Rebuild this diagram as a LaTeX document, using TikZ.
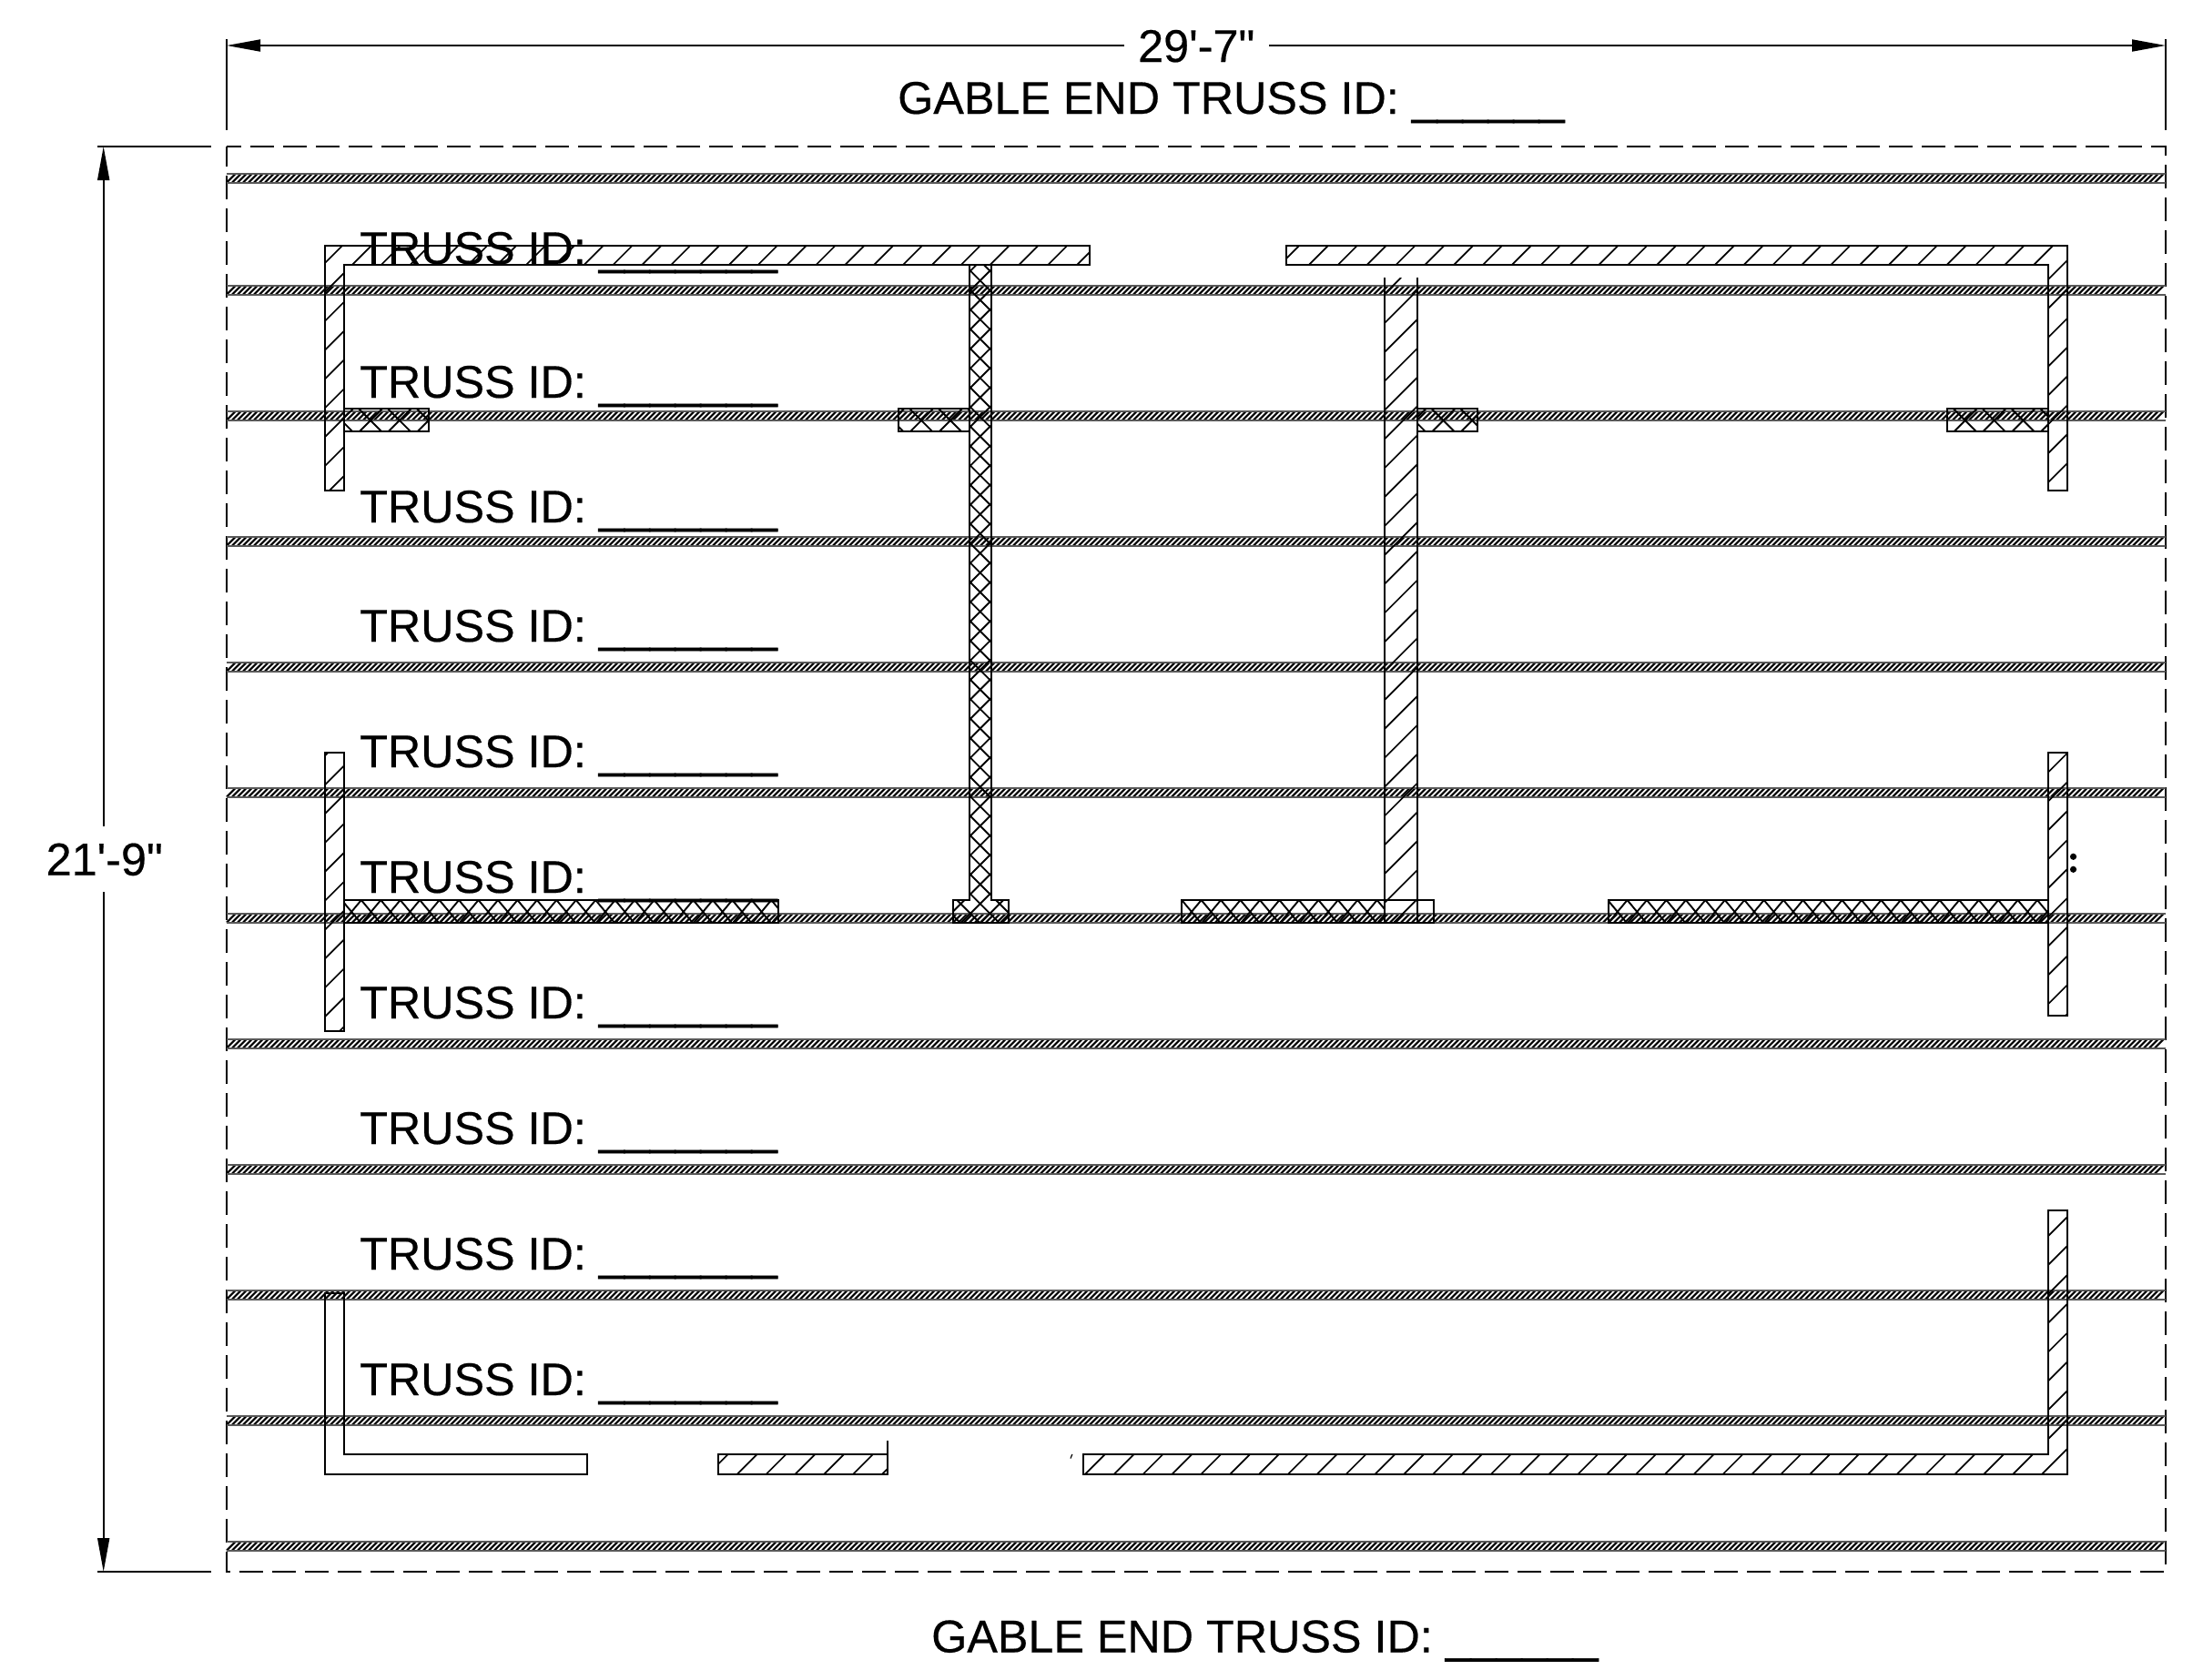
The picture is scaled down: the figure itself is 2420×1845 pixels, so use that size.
\documentclass[tikz,border=0pt]{standalone}
\usepackage{fontspec}
\usetikzlibrary{arrows.meta}
\newfontfamily\lab[FakeBold=0.4]{Liberation Sans}
\newfontfamily\labrule[FakeBold=1.2]{Liberation Sans}
\newcommand\blankline[1]{{\labrule\foreach \uu in {1,...,#1}{\_}}}
\tikzset{
  x=1pt,y=-1pt,
  wall/.style={draw=black,line width=2pt,line join=miter},
  hatchline/.style={draw=black,line width=1.7pt},
  crossline/.style={draw=black,line width=1.9pt},
  stripline/.style={draw=black,line width=2.1pt},
  stripedge/.style={draw=black!65,line width=1.4pt},
  boundary/.style={draw=black,line width=1.8pt,dash pattern=on 25.7pt off 10.3pt,dash phase=9.7pt},
  dimline/.style={draw=black,line width=1.8pt},
  dimarrow/.style={dimline,-{Triangle[length=37pt,width=13pt]}},
  label/.style={font=\lab\fontsize{50.3}{60}\selectfont,inner sep=0pt,anchor=base west},
}
% joist strip: #1 = centre y
\newcommand\Joist[1]{%
  \foreach \xx in {249,255,...,2369}{\draw[stripline] (\xx,#1+4.6) -- (\xx+9.2,#1-4.6);}
  \draw[stripedge] (249,#1-5) -- (2379,#1-5);
  \draw[stripedge] (249,#1+5) -- (2379,#1+5);
}
\newcommand\Slashes[8][hatchline]{%
  \begin{scope}
    \clip #2;
    \pgfmathtruncatemacro\kA{floor((#5+#6-#3)/#4)}
    \pgfmathtruncatemacro\kB{ceil((#7+#8-#3)/#4)}
    \foreach \k in {\kA,...,\kB}{
      \pgfmathsetmacro\ss{#3+\k*#4}
      \draw[#1] (\ss-#6,#6) -- (\ss-#8,#8);
    }
  \end{scope}}
\newcommand\Backs[8][crossline]{%
  \begin{scope}
    \clip #2;
    \pgfmathtruncatemacro\kA{floor((#5-#8-#3)/#4)}
    \pgfmathtruncatemacro\kB{ceil((#7-#6-#3)/#4)}
    \foreach \k in {\kA,...,\kB}{
      \pgfmathsetmacro\ss{#3+\k*#4}
      \draw[#1] (\ss+#6,#6) -- (\ss+#8,#8);
    }
  \end{scope}}
% steep cross-hatched band: #1 xmin, #2 xmax (clip), #3 first apex x, #4 last apex x
\newcommand\Band[4]{%
  \begin{scope}
    \clip (#1,989) rectangle (#2,1013.5);
    \pgfmathsetmacro\apn{#3+21.45}
    \foreach \ax in {#3,\apn,...,#4}{
      \draw[crossline] (\ax-20.4,1013.5) -- (\ax,989) -- (\ax+20.4,1013.5);
    }
  \end{scope}}
\def\GP{646}\def\GS{31.85}
\begin{document}
\begin{tikzpicture}
\useasboundingbox (0,0) rectangle (2420,1845);
\fill[white] (0,0) rectangle (2420,1845);

% boundary and dimension witness lines
\draw[boundary] (249,161) -- (2379,161) -- (2379,1727) -- (249,1727) -- cycle;
\coordinate (wtl) at (249,43); \coordinate (wtlb) at (249,143);
\coordinate (wtr) at (2379,43); \coordinate (wtrb) at (2379,143);
\coordinate (wlt) at (107,161); \coordinate (wlte) at (232,161);
\coordinate (wlb) at (107,1727); \coordinate (wlbe) at (232,1727);
\draw[dimline] (wtl) -- (wtlb);
\draw[dimline] (wtr) -- (wtrb);
\draw[dimline] (wlt) -- (wlte);
\draw[dimline] (wlb) -- (wlbe);

% joists
\foreach \yy in {196,319,457,595,733,871,1009,1147,1285,1423,1561,1699}{\Joist{\yy}}

% top-left wall
\def\pa{(356.7,539.3) -- (356.7,269.8) -- (1197.3,269.8) -- (1197.3,290.8) -- (377.7,290.8) -- (377.7,539.3) -- cycle}
\Slashes{\pa}{\GP}{\GS}{356}{269}{1198}{540}
\draw[wall] \pa;
% top-right wall
\def\pb{(1412.5,269.8) -- (2271.2,269.8) -- (2271.2,539.3) -- (2250.4,539.3) -- (2250.4,290.8) -- (1412.5,290.8) -- cycle}
\Slashes{\pb}{\GP}{\GS}{1412}{269}{2272}{540}
\draw[wall] \pb;
% cross-hatched T wall
\def\pc{(1065,290.8) -- (1089.2,290.8) -- (1089.2,989) -- (1107.5,989) -- (1107.5,1013.5) -- (1047,1013.5) -- (1047,989) -- (1065,989) -- cycle}
\Slashes[crossline]{\pc}{2048.4}{21.4}{1047}{290}{1108}{1014}
\Backs{\pc}{105}{21.4}{1047}{290}{1108}{1014}
\draw[wall] \pc;
% second wall with open top
\def\pd{(1521,305) rectangle (1557,1013.5)}
\Slashes{\pd}{1876}{\GS}{1521}{305}{1557}{1014}
\draw[wall] (1521,305) -- (1521,1013.5);
\draw[wall] (1557,305) -- (1557,1013.5);
% stubs
\def\pe{(377.7,449.3) rectangle (471,474)}
\def\pf{(986.6,449.3) rectangle (1065,474)}
\def\pg{(1557,449.3) rectangle (1623,474)}
\def\ph{(2139,449.3) rectangle (2250.4,474)}
\foreach \pth/\xa/\xb in {\pe/377/471,\pf/986/1065,\pg/1557/1623,\ph/2139/2251}{
  \Slashes[crossline]{\pth}{\GP}{\GS}{\xa}{449}{\xb}{474}
  \Backs{\pth}{-55}{\GS}{\xa}{449}{\xb}{474}
  \draw[wall] \pth;
}
% mid walls
\def\pi{(357,827) rectangle (378,1133)}
\Slashes{\pi}{\GP}{\GS}{357}{827}{378}{1133}
\draw[wall] \pi;
\def\pj{(2250,827) rectangle (2271,1116)}
\Slashes{\pj}{\GP}{\GS}{2250}{827}{2271}{1116}
\draw[wall] \pj;
% cross-hatched bands on the row at 1009
\Band{378}{855}{375.4}{880}
\draw[wall] (378,989) rectangle (855,1013.5);
\Band{1298.4}{1521}{1298.2}{1540}
\draw[wall] (1298.4,989) rectangle (1575,1013.5);
\Band{1767}{2250}{1766.1}{2270}
\draw[wall] (1767,989) rectangle (2250,1013.5);
% dots
\fill[black] (2277.5,941.3) circle (3.6);
\fill[black] (2277.5,955.3) circle (3.6);
% bottom-left L (no hatch)
\draw[wall] (357,1421) -- (378,1421) -- (378,1598) -- (645,1598) -- (645,1620) -- (357,1620) -- cycle;
% bottom middle piece
\def\pn{(788.6,1598) rectangle (974.6,1620)}
\Slashes{\pn}{\GP}{\GS}{788}{1598}{975}{1620}
\draw[wall] \pn;
\draw[wall] (974.6,1583) -- (974.6,1598);
% bottom-right wall
\def\po{(1190,1598) -- (2250,1598) -- (2250,1330) -- (2271,1330) -- (2271,1620) -- (1190,1620) -- cycle}
\Slashes{\po}{\GP}{\GS}{1190}{1330}{2271}{1620}
\draw[wall] \po;
\draw[line width=1.2pt] (1176,1602.5) -- (1177.8,1598);

% labels
\foreach \n/\yb in {a/290,b/437,c/574,d/705,e/843,f/981,g/1119,h/1257,i/1395,j/1533}{
  \node[label] (truss\n) at (395,\yb) {TRUSS ID: {\labrule\_\_\_\_\_\_\_}};
}
\node[label] (gabletop) at (986,125) {GABLE END TRUSS ID: {\labrule\_\_\_\_\_\_}};
\node[label] (gablebot) at (1023,1815.5) {GABLE END TRUSS ID: {\labrule\_\_\_\_\_\_}};
\node[label] (dimh) at (1250,68) {29'-7"};
\node[label] (dimv) at (50.5,961.7) {21'-9"};

% dimension lines
\coordinate (hl) at (249,50); \coordinate (hr) at (2379,50);
\coordinate (hm1) at (1235,50); \coordinate (hm2) at (1394,50);
\coordinate (vt) at (113.7,161); \coordinate (vb) at (113.7,1727);
\coordinate (vm1) at (113.7,908); \coordinate (vm2) at (113.7,980);
\draw[dimarrow] (hm1) -- (hl);
\draw[dimarrow] (hm2) -- (hr);
\draw[dimarrow] (vm1) -- (vt);
\draw[dimarrow] (vm2) -- (vb);
\end{tikzpicture}
\end{document}
